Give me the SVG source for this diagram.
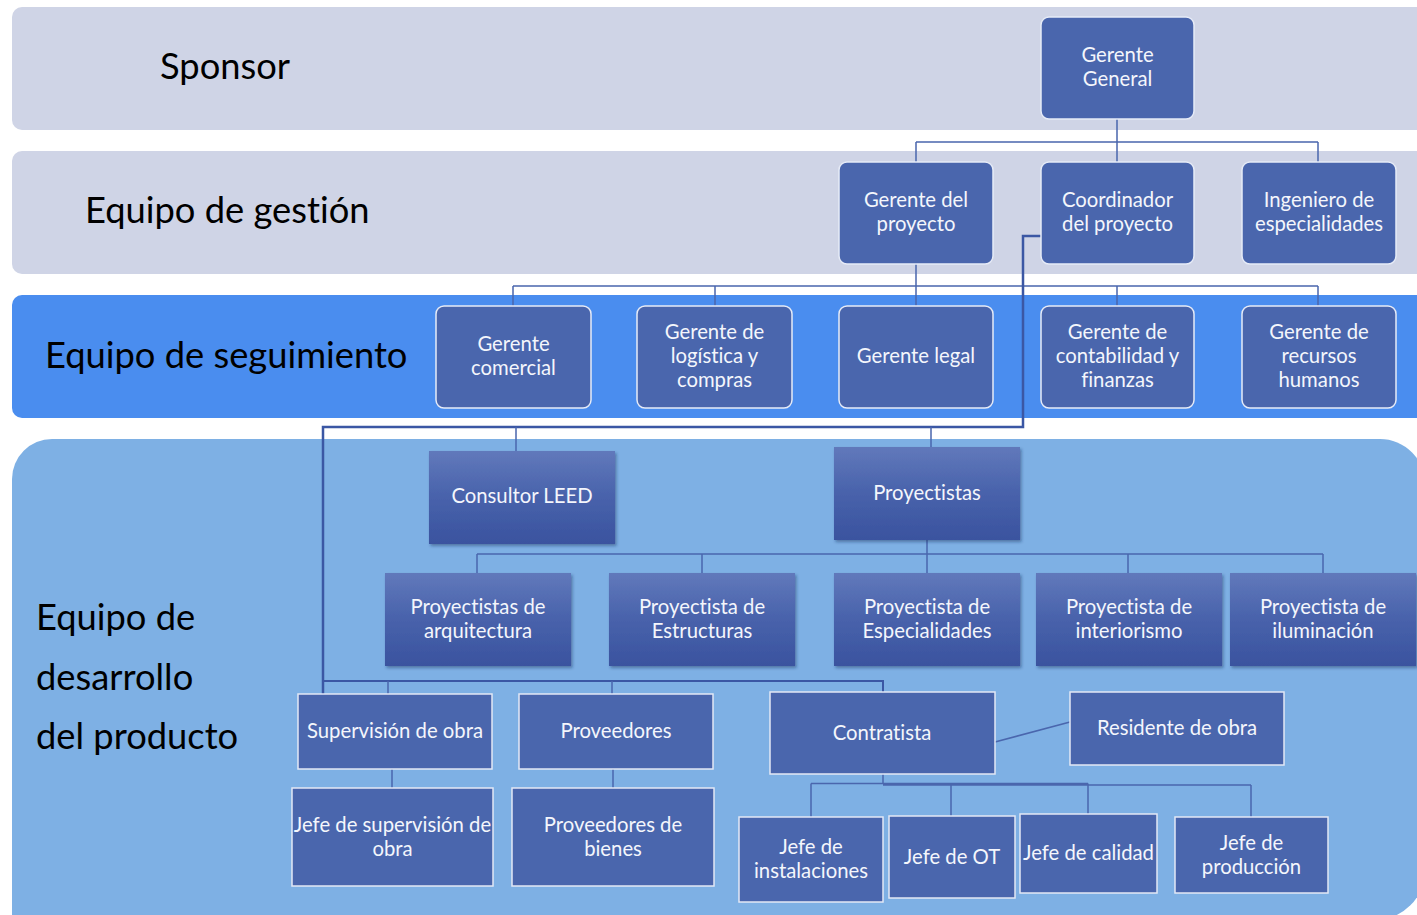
<svg xmlns="http://www.w3.org/2000/svg" width="1417" height="915" viewBox="0 0 1417 915">
  <defs>
    <linearGradient id="gradBox" x1="0" y1="0" x2="0" y2="1">
      <stop offset="0" stop-color="#6179bb"/>
      <stop offset="0.5" stop-color="#4862ab"/>
      <stop offset="1" stop-color="#3a539f"/>
    </linearGradient>
    <filter id="shadow" x="-10%" y="-10%" width="125%" height="130%">
      <feDropShadow dx="1.5" dy="2" stdDeviation="1.5" flood-color="#1f2f5a" flood-opacity="0.45"/>
    </filter>
    <style>
      .band-gray { fill: #cfd4e6; }
      .band-blue { fill: #4a8def; }
      .band-light { fill: #7eb0e4; }
      .band-label { font-family: Lato, "Liberation Sans", sans-serif; font-size: 36.3px; fill: #000; font-variant-ligatures: none; }
      .box-round { fill: #4a66ad; stroke: #e6ebf7; stroke-width: 1.5; }
      .box-grad { fill: url(#gradBox); filter: url(#shadow); }
      .box-flat { fill: #4a66ad; stroke: #e3e8f5; stroke-width: 1.5; }
      .label { font-family: Lato, "Liberation Sans", sans-serif; font-size: 20.3px; fill: #f4f6fc; text-anchor: middle; font-variant-ligatures: none; }
      .link { fill: none; stroke: #4a66ad; stroke-width: 1.5; }
      .link-strong { fill: none; stroke: #3b57a4; stroke-width: 2.5; }
    </style>
  </defs>

  <rect width="1417" height="915" fill="#ffffff"/>

  <!-- level bands -->
  <g id="bands">
    <rect class="band-gray" x="12" y="7" width="1430" height="123" rx="10"/>
    <rect class="band-gray" x="12" y="151" width="1430" height="123" rx="10"/>
    <rect class="band-blue" x="12" y="295" width="1430" height="123" rx="10"/>
    <path class="band-light" d="M12,479 A40,40 0 0 1 52,439 L1380,439 A45,45 0 0 1 1425,484 L1425,870 A50,50 0 0 1 1375,920 L12,920 Z"/>
    <text class="band-label" x="160" y="79">Sponsor</text>
    <text class="band-label" x="85" y="223">Equipo de gestión</text>
    <text class="band-label" x="45" y="368">Equipo de seguimiento</text>
    <text class="band-label" x="36" y="630">Equipo de</text>
    <text class="band-label" x="36" y="690">desarrollo</text>
    <text class="band-label" x="36" y="749">del producto</text>
  </g>

  <!-- connectors -->
  <g id="connectors">
    <path class="link" d="M1117,119 V142 M916,142 H1318 M916,142 V162 M1117,142 V162 M1318,142 V162"/>
    <path class="link" d="M916,264 V306 M513,286 H1318 M513,286 V306 M715,286 V306 M1117,286 V306 M1318,286 V306"/>
    <path class="link-strong" d="M1041,236 H1023 V427 H323 V694"/>
    <path class="link" d="M516,427 V462 M931,427 V462"/>
    <path class="link" d="M927,540 V554 M477,554 H1323 M477,554 V573 M702,554 V573 M927,554 V573 M1128,554 V573 M1323,554 V573"/>
    <path class="link-strong" style="stroke-width:2" d="M323,681 H883 V692"/>
    <path class="link" d="M388,681 V694 M612,681 V694"/>
    <path class="link" d="M392,769 V788 M613,769 V788"/>
    <path class="link" d="M995,742 L1070,722"/>
    <path class="link" d="M883,774 V784 M811,783.5 H1088 M883,785 H1251 M811,783.5 V817 M951,785 V816 M1088,783.5 V814 M1251,785 V817"/>
  </g>

  <!-- sponsor -->
  <g id="n-gerente-general">
    <rect class="box-round" x="1041" y="17" width="153" height="102" rx="8"/>
    <text class="label" x="1117.5" y="62">Gerente</text>
    <text class="label" x="1117.5" y="86">General</text>
  </g>

  <!-- management team -->
  <g id="n-gerente-proyecto">
    <rect class="box-round" x="839" y="162" width="154" height="102" rx="8"/>
    <text class="label" x="916" y="207">Gerente del</text>
    <text class="label" x="916" y="231">proyecto</text>
  </g>
  <g id="n-coordinador">
    <rect class="box-round" x="1041" y="162" width="153" height="102" rx="8"/>
    <text class="label" x="1117.5" y="207">Coordinador</text>
    <text class="label" x="1117.5" y="231">del proyecto</text>
  </g>
  <g id="n-ingeniero">
    <rect class="box-round" x="1242" y="162" width="154" height="102" rx="8"/>
    <text class="label" x="1319" y="207">Ingeniero de</text>
    <text class="label" x="1319" y="231">especialidades</text>
  </g>

  <!-- follow-up team -->
  <g id="n-comercial">
    <rect class="box-round" x="436" y="306" width="155" height="102" rx="8"/>
    <text class="label" x="513.5" y="351">Gerente</text>
    <text class="label" x="513.5" y="375">comercial</text>
  </g>
  <g id="n-logistica">
    <rect class="box-round" x="637" y="306" width="155" height="102" rx="8"/>
    <text class="label" x="714.5" y="339">Gerente de</text>
    <text class="label" x="714.5" y="363">logística y</text>
    <text class="label" x="714.5" y="387">compras</text>
  </g>
  <g id="n-legal">
    <rect class="box-round" x="839" y="306" width="154" height="102" rx="8"/>
    <text class="label" x="916" y="363">Gerente legal</text>
  </g>
  <g id="n-contabilidad">
    <rect class="box-round" x="1041" y="306" width="153" height="102" rx="8"/>
    <text class="label" x="1117.5" y="339">Gerente de</text>
    <text class="label" x="1117.5" y="363">contabilidad y</text>
    <text class="label" x="1117.5" y="387">finanzas</text>
  </g>
  <g id="n-rrhh">
    <rect class="box-round" x="1242" y="306" width="154" height="102" rx="8"/>
    <text class="label" x="1319" y="339">Gerente de</text>
    <text class="label" x="1319" y="363">recursos</text>
    <text class="label" x="1319" y="387">humanos</text>
  </g>

  <!-- product development team -->
  <g id="n-leed">
    <rect class="box-grad" x="429" y="451" width="186" height="93"/>
    <text class="label" x="522" y="503">Consultor LEED</text>
  </g>
  <g id="n-proyectistas">
    <rect class="box-grad" x="834" y="447" width="186" height="93"/>
    <text class="label" x="927" y="500">Proyectistas</text>
  </g>
  <g id="n-arquitectura">
    <rect class="box-grad" x="385" y="573" width="186" height="93"/>
    <text class="label" x="478" y="614">Proyectistas de</text>
    <text class="label" x="478" y="638">arquitectura</text>
  </g>
  <g id="n-estructuras">
    <rect class="box-grad" x="609" y="573" width="186" height="93"/>
    <text class="label" x="702" y="614">Proyectista de</text>
    <text class="label" x="702" y="638">Estructuras</text>
  </g>
  <g id="n-especialidades">
    <rect class="box-grad" x="834" y="573" width="186" height="93"/>
    <text class="label" x="927" y="614">Proyectista de</text>
    <text class="label" x="927" y="638">Especialidades</text>
  </g>
  <g id="n-interiorismo">
    <rect class="box-grad" x="1036" y="573" width="186" height="93"/>
    <text class="label" x="1129" y="614">Proyectista de</text>
    <text class="label" x="1129" y="638">interiorismo</text>
  </g>
  <g id="n-iluminacion">
    <rect class="box-grad" x="1230" y="573" width="186" height="93"/>
    <text class="label" x="1323" y="614">Proyectista de</text>
    <text class="label" x="1323" y="638">iluminación</text>
  </g>

  <g id="n-supervision">
    <rect class="box-flat" x="298" y="694" width="194" height="75"/>
    <text class="label" x="395" y="738">Supervisión de obra</text>
  </g>
  <g id="n-proveedores">
    <rect class="box-flat" x="519" y="694" width="194" height="75"/>
    <text class="label" x="616" y="738">Proveedores</text>
  </g>
  <g id="n-contratista">
    <rect class="box-flat" x="770" y="692" width="225" height="82"/>
    <text class="label" x="882" y="740">Contratista</text>
  </g>
  <g id="n-residente">
    <rect class="box-flat" x="1070" y="692" width="214" height="73"/>
    <text class="label" x="1177" y="735">Residente de obra</text>
  </g>
  <g id="n-jefe-supervision">
    <rect class="box-flat" x="292" y="788" width="201" height="98"/>
    <text class="label" x="392.5" y="832">Jefe de supervisión de</text>
    <text class="label" x="392.5" y="856">obra</text>
  </g>
  <g id="n-proveedores-bienes">
    <rect class="box-flat" x="512" y="788" width="202" height="98"/>
    <text class="label" x="613" y="832">Proveedores de</text>
    <text class="label" x="613" y="856">bienes</text>
  </g>
  <g id="n-jefe-instalaciones">
    <rect class="box-flat" x="739" y="817" width="144" height="85"/>
    <text class="label" x="811" y="854">Jefe de</text>
    <text class="label" x="811" y="878">instalaciones</text>
  </g>
  <g id="n-jefe-ot">
    <rect class="box-flat" x="889" y="816" width="126" height="82"/>
    <text class="label" x="952" y="864">Jefe de OT</text>
  </g>
  <g id="n-jefe-calidad">
    <rect class="box-flat" x="1020" y="814" width="137" height="79"/>
    <text class="label" x="1088.5" y="860">Jefe de calidad</text>
  </g>
  <g id="n-jefe-produccion">
    <rect class="box-flat" x="1175" y="817" width="153" height="76"/>
    <text class="label" x="1251.5" y="850">Jefe de</text>
    <text class="label" x="1251.5" y="874">producción</text>
  </g>
</svg>
